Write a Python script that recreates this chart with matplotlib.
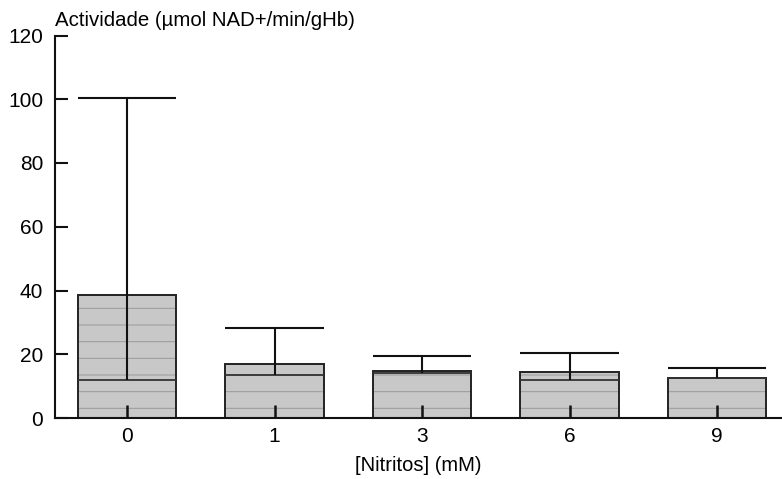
import numpy as np
import matplotlib.pyplot as plt

plt.rcParams['font.family'] = ['Liberation Sans', 'DejaVu Sans']
plt.rcParams['hatch.linewidth'] = 0.7

# nitrite concentrations and activity summary per group
nitritos = ['0', '1', '3', '6', '9']
box_top = [38.6, 17.0, 14.7, 14.4, 12.6]
mediana = [11.9, 13.6, 14.2, 11.9, 12.6]
maximo = [100.5, 28.1, 19.6, 20.5, 15.6]

x = np.arange(len(nitritos))
w = 0.667

fig = plt.figure(figsize=(7.82, 4.79), dpi=100)
ax = fig.add_axes([55/782, 61/479, 1 - 55/782, 382.5/479])

# shaded boxes, then outlines on top
ax.bar(x, box_top, w, color='#c8c8c8', edgecolor='#999999', hatch='-', linewidth=0, zorder=1)
ax.bar(x, box_top, w, fill=False, edgecolor='#222222', linewidth=1.4, zorder=2)
ax.hlines(mediana, x - w/2, x + w/2, color='#333333', linewidth=1.3, zorder=3)

# whiskers from median up to the maximum
ax.vlines(x, mediana, maximo, color='#111111', linewidth=1.5, zorder=3)
ax.hlines(maximo, x - w/2, x + w/2, color='#111111', linewidth=1.5, zorder=3)

ax.set_xlim(-0.488, 4.44)
ax.set_ylim(0, 120)
ax.set_yticks([0, 20, 40, 60, 80, 100, 120])
ax.set_xticks(x, nitritos)

for s in ['top', 'right']:
    ax.spines[s].set_visible(False)
for s in ['left', 'bottom']:
    ax.spines[s].set_linewidth(1.5)
    ax.spines[s].set_color('#111111')

ax.tick_params(axis='y', direction='in', length=9, width=1.5, pad=8.5, labelsize=15, color='#111111')
ax.tick_params(axis='x', direction='in', length=9.5, width=1.8, pad=6.5, labelsize=15, color='#111111')

ax.set_xlabel('[Nitritos] (mM)', fontsize=14.5, labelpad=7)
fig.text(55/782, 1 - 26/479, 'Actividade (µmol NAD+/min/gHb)', fontsize=14.7, va='baseline', ha='left')

fig.savefig('out.png', dpi=100)
